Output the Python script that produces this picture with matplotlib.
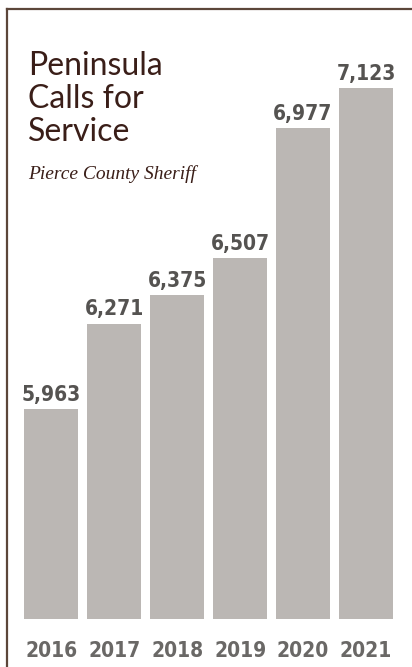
import matplotlib
matplotlib.use("Agg")
import matplotlib.pyplot as plt
from matplotlib import font_manager
from matplotlib.lines import Line2D

years = ["2016", "2017", "2018", "2019", "2020", "2021"]
calls = [5963, 6271, 6375, 6507, 6977, 7123]
value_labels = ["5,963", "6,271", "6,375", "6,507", "6,977", "7,123"]

title_lines = ["Peninsula", "Calls for", "Service"]
subtitle = "Pierce County Sheriff"

W, H = 412, 667
fig = plt.figure(figsize=(W / 100, H / 100), dpi=100)
fig.patch.set_facecolor("white")

# choose a condensed bold font if available
fp_test = font_manager.FontProperties(family="DejaVu Sans", stretch="condensed", weight="bold")
path = font_manager.findfont(fp_test)
if "Condensed" in path:
    num_family = "DejaVu Sans"
    num_stretch = "condensed"
    num_size = 15
    yr_size = 15
else:
    num_family = "Liberation Sans Narrow"
    num_stretch = "normal"
    num_size = 17
    yr_size = 17

bar_color = "#bbb7b4"
brown = "#3a1e18"
border = "#5c463a"

# axes placement (pixels)
ax_left = 20.0
ax_w = 377.4
ax_bottom = 619
ax_top = 60
ax = fig.add_axes([ax_left / W, (H - ax_bottom) / H, ax_w / W, (ax_bottom - ax_top) / H])
ax.set_facecolor("none")

x = list(range(len(years)))
bars = ax.bar(x, calls, width=0.86, color=bar_color, zorder=2)
ax.set_xlim(-0.5, 5.5)
ax.set_ylim(5204, 7224)

for xi, v, lab in zip(x, calls, value_labels):
    ax.annotate(lab, xy=(xi, v), xytext=(0, 6), textcoords="offset points",
                ha="center", va="baseline", fontsize=num_size, fontweight="bold",
                family=num_family, fontstretch=num_stretch, color="#555351")

ax.set_xticks(x, labels=years)
ax.tick_params(axis="x", length=0, pad=16, labelsize=yr_size, labelcolor="#6a6866")
for t in ax.get_xticklabels():
    t.set_family(num_family)
    t.set_fontweight("bold")
    t.set_fontstretch(num_stretch)
ax.set_yticks([])
for s in ax.spines.values():
    s.set_visible(False)

# title block
baselines = [75, 108, 141]
for line, b in zip(title_lines, baselines):
    fig.text(28 / W, 1 - b / H, line, fontsize=23, family="Lato", color=brown,
             va="baseline", ha="left")
fig.text(28 / W, 1 - 179 / H, subtitle, fontsize=14, family="Liberation Serif",
         style="italic", color=brown, va="baseline", ha="left")

# border lines
fig.add_artist(Line2D([7 / W, 1.0], [1 - 9 / H, 1 - 9 / H], transform=fig.transFigure,
                      color=border, linewidth=1.6))
fig.add_artist(Line2D([7 / W, 7 / W], [1 - 9 / H, 0.0], transform=fig.transFigure,
                      color=border, linewidth=1.6))

fig.savefig("out.png", dpi=100, facecolor="white")
